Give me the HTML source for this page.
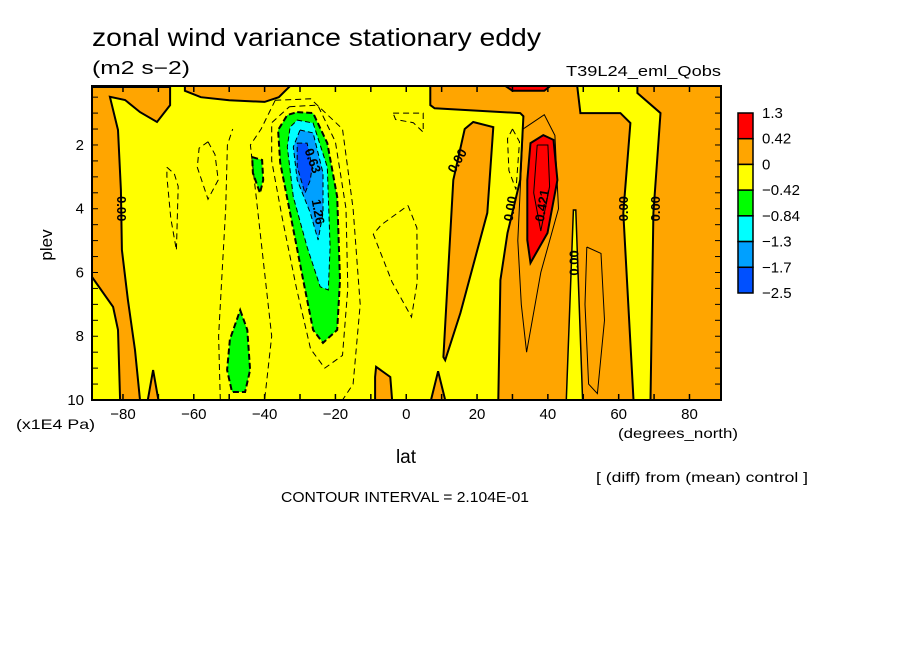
<!DOCTYPE html>
<html><head><meta charset="utf-8"><style>
html,body{margin:0;padding:0;background:#fff;}
svg{display:block;font-family:"Liberation Sans",sans-serif;}
</style></head><body>
<svg id="chart" width="904" height="654" viewBox="0 0 904 654">
<rect width="904" height="654" fill="#fff"/>
<text x="92" y="46" font-size="25" textLength="449" lengthAdjust="spacingAndGlyphs">zonal wind variance stationary eddy</text>
<text x="92" y="74" font-size="18" textLength="98" lengthAdjust="spacingAndGlyphs">(m2 s−2)</text>
<text x="566" y="76" font-size="15" textLength="155" lengthAdjust="spacingAndGlyphs">T39L24_eml_Qobs</text>
<g id="plot"></g>
<g id="axes"></g>
<g id="cbar"></g>
<text x="52" y="245" font-size="17" transform="rotate(-90 52 245)" text-anchor="middle">plev</text>
<text x="406" y="463" font-size="19" text-anchor="middle">lat</text>
<text x="16" y="429" font-size="14" textLength="79" lengthAdjust="spacingAndGlyphs">(x1E4 Pa)</text>
<text x="618" y="438" font-size="14" textLength="120" lengthAdjust="spacingAndGlyphs">(degrees_north)</text>
<text x="596" y="482" font-size="14" textLength="212" lengthAdjust="spacingAndGlyphs">[ (diff) from (mean) control ]</text>
<text x="281" y="502" font-size="15" textLength="248" lengthAdjust="spacingAndGlyphs">CONTOUR INTERVAL = 2.104E-01</text>
</svg>
<script>
const latMin=-88.75, latMax=88.9, pTop=0.15, pBot=10;
const xTicks=[-80,-60,-40,-20,0,20,40,60,80];
const yTicks=[2,4,6,8,10];
const cbarLabels=["1.3","0.42","0","−0.42","−0.84","−1.3","−1.7","−2.5"];
const cbarColors=["#ff0000","#ffa500","#ffff00","#00ff00","#00ffff","#00a0ff","#0050ff"];
const orangeRegions=[
 [[-88.75,0.18],[-66.7,0.18],[-66.7,0.75],[-70.4,1.28],[-75.2,0.97],[-79.4,0.59],[-83.7,0.49],[-81.4,1.53],[-80.6,3.41],[-80.3,5.29],[-78.6,6.86],[-76.6,8.43],[-75.2,10],[-80.8,10],[-81.4,7.8],[-82.8,7.08],[-88.75,6.14]],
 [[-62.5,0.15],[-32.8,0.15],[-36,0.5],[-40,0.65],[-50,0.6],[-58,0.5],[-62.5,0.3]],
 [[6.8,0.15],[48.3,0.15],[49.2,1.0],[60.5,1.0],[63.3,1.31],[61.3,4.13],[64.2,10],[26.0,10],[26.6,6.24],[28.6,4.76],[32.2,3.1],[33.1,1.1],[32.2,1.0],[8,0.85],[6.8,0.75]],
 [[65.3,0.15],[88.9,0.15],[88.9,10],[69,10],[69.8,4.13],[71.8,1.0],[65.3,0.37]],
 [[18.9,1.28],[24.6,1.44],[22.9,4.13],[15.3,7.27],[11.0,8.75],[10.5,8.65],[13.3,3.1],[16.5,1.5]],
 [[9,9.1],[11,10],[7,10]],
 [[-71.5,9.06],[-70,10],[-73,10]],
 [[-8.5,8.96],[-4.5,9.28],[-4,10],[-8.8,10],[-8.8,9.28]]
];
const yellowRegions=[[[47.2,4.04],[47.9,4.04],[49.8,10],[45.2,10]]];
const greenRegions=[
 [[-30.8,0.97],[-26.3,1.0],[-22.3,1.94],[-19.5,3.63],[-18.7,6.24],[-19.5,7.8],[-23.5,8.21],[-26.3,7.8],[-29.1,6.24],[-32.8,4.13],[-35.6,2.56],[-36.2,1.53],[-33.6,1.06]],
 [[-43.5,2.38],[-40.7,2.47],[-40.4,3.1],[-41.3,3.51],[-43.3,2.88]],
 [[-46.9,7.18],[-44.9,7.8],[-44.1,9.06],[-45.5,9.75],[-49.2,9.75],[-50.6,9.06],[-49.8,8.1]]
];
const cyanRegions=[[[-30.8,1.22],[-26.3,1.31],[-22.3,2.69],[-21.5,5.2],[-22.0,6.55],[-24.3,6.45],[-28,5.2],[-31.9,3.63],[-33.6,2.06],[-32.8,1.44]]];
const midBlueRegions=[[[-30,1.53],[-26.3,1.62],[-23.5,2.88],[-23.5,4.13],[-24.9,4.98],[-27.1,4.13],[-30.8,3.1],[-31.9,2.06]]];
const darkBlueRegions=[[[-30.8,1.94],[-28,1.94],[-26.6,2.69],[-27.1,3.1],[-28.6,3.51],[-30.8,2.69]]];
const redRegions=[
 [[35.1,1.94],[38.7,1.69],[41.6,1.84],[42.7,3.1],[39.9,4.76],[35.1,5.7],[34.2,4.98],[34.2,3.1]],
 [[28,0.15],[40.7,0.15],[39,0.3],[30,0.3]]
];
const dashedLines=[
 [[-33,0.8],[-25,0.75],[-20,1.9],[-17,4],[-16.5,6.5],[-18,8.6],[-23,9.0],[-27,8.4],[-31,6.5],[-35,4.3],[-38,2.5],[-38,1.3],[-33,0.8]],
 [[-37,0.6],[-27,0.55],[-18,1.5],[-15,4],[-13,7],[-15,9.5],[-18,10]],
 [[-37,0.6],[-41,1.5],[-44,2],[-42,4],[-40,6],[-38,8],[-40,10]],
 [[0.5,3.9],[3,4.6],[3.1,6.3],[1.5,7.4],[-4,6.3],[-9.3,4.8],[-7,4.5],[0.5,3.9]],
 [[-3.7,1.0],[4.8,1.0],[4.8,1.6],[2,1.3],[-3,1.2],[-3.7,1.0]],
 [[-67.6,2.7],[-65.5,2.9],[-64.4,3.3],[-64.9,5.3],[-66.5,4.3],[-67.6,3],[-67.6,2.7]],
 [[-56,1.9],[-54,2.3],[-53.1,3.1],[-56,3.7],[-59,2.7],[-58.5,2.1],[-56,1.9]],
 [[-52.5,10],[-53,8],[-52,6],[-51,4],[-50.5,2],[-49,1.5]],
 [[30,1.5],[32,1.9],[31,3.4],[29,2.8],[28.6,1.8],[30,1.5]]
];
const thinLines=[
 [[33,1.5],[39,1.05],[42,1.7],[43,4],[38,6],[34,8.5],[32.5,7],[31.5,5],[33,1.5]],
 [[37,2.0],[40,2.0],[40.5,3.3],[38,4.7],[36,3.5],[37,2.0]],
 [[51,5.2],[55,5.4],[56,7.5],[54,9.8],[51.5,9.5],[50.5,7],[51,5.2]]
];
const contourLabels=[[-80.5,4.0,"0.00",90],[14.5,2.5,"0.00",-60],[29.5,4.0,"0.00",-80],[47.5,5.7,"0.00",-90],[61.5,4.0,"0.00",-90],[70.5,4.0,"0.00",-90],[38.5,3.9,"0.421",-80],[-26.5,2.5,"0.63",70],[-25,4.1,"1.26",80]];

const X0=92,X1=721,Y0=86,Y1=400;
function x(l){return X0+(l-latMin)/(latMax-latMin)*(X1-X0);}
function y(p){return Y0+(p-pTop)/(pBot-pTop)*(Y1-Y0);}
const NS="http://www.w3.org/2000/svg";
function mk(tag,parent){const e=document.createElementNS(NS,tag);parent.appendChild(e);return e;}
function pts(a){return a.map(d=>x(d[0]).toFixed(1)+","+y(d[1]).toFixed(1)).join(" ");}
const plot=document.getElementById("plot");
const clip=mk("clipPath",plot);clip.setAttribute("id","pc");
const cr=mk("rect",clip);cr.setAttribute("x",X0);cr.setAttribute("y",Y0);cr.setAttribute("width",X1-X0);cr.setAttribute("height",Y1-Y0);
const g=mk("g",plot);g.setAttribute("clip-path","url(#pc)");
const bg=mk("rect",g);bg.setAttribute("x",X0);bg.setAttribute("y",Y0);bg.setAttribute("width",X1-X0);bg.setAttribute("height",Y1-Y0);bg.setAttribute("fill","#ffff00");


function drawSet(arr,fill,name,dash,sw){arr.forEach(r=>{const p=mk("polygon",g);p.setAttribute("points",pts(r));p.setAttribute("fill",fill);p.setAttribute("stroke","#000");p.setAttribute("stroke-width",sw);if(dash)p.setAttribute("stroke-dasharray",dash);

});}
drawSet(orangeRegions,"#ffa500","orange-region",null,2);
drawSet(yellowRegions,"#ffff00","yellow-region",null,1.5);
drawSet(greenRegions,"#00ff00","green-region","6,3",2);
drawSet(cyanRegions,"#00ffff","cyan-region","5,3",1);
drawSet(midBlueRegions,"#00a0ff","mid-blue-region","5,3",1);
drawSet(darkBlueRegions,"#0050ff","dark-blue-region","5,3",1);
drawSet(redRegions,"#ff0000","red-region",null,2);
dashedLines.forEach(l=>{const p=mk("polyline",g);p.setAttribute("points",pts(l));p.setAttribute("fill","none");p.setAttribute("stroke","#000");p.setAttribute("stroke-width","1");p.setAttribute("stroke-dasharray","6,4");

});
thinLines.forEach(l=>{const p=mk("polyline",g);p.setAttribute("points",pts(l));p.setAttribute("fill","none");p.setAttribute("stroke","#000");p.setAttribute("stroke-width","1");

});
contourLabels.forEach(c=>{const t=mk("text",g);const cx=x(c[0]),cy=y(c[1]);t.setAttribute("x",cx);t.setAttribute("y",cy+4);t.setAttribute("font-size","13");t.setAttribute("font-weight","bold");t.setAttribute("text-anchor","middle");t.setAttribute("transform","rotate("+c[3]+" "+cx+" "+cy+")");t.textContent=c[2];

});
const ax=document.getElementById("axes");
const fr=mk("rect",ax);fr.setAttribute("x",X0);fr.setAttribute("y",Y0);fr.setAttribute("width",X1-X0);fr.setAttribute("height",Y1-Y0);fr.setAttribute("fill","none");fr.setAttribute("stroke","#000");fr.setAttribute("stroke-width","2");


for(let l=-80;l<=80;l+=10){[[Y1,-6],[Y0,6]].forEach(s=>{const t=mk("line",ax);t.setAttribute("x1",x(l));t.setAttribute("x2",x(l));t.setAttribute("y1",s[0]);t.setAttribute("y2",s[0]+s[1]);t.setAttribute("stroke","#000");t.setAttribute("stroke-width","1.5");});}
for(let p=0.5;p<=10;p+=0.5){[[X0,6],[X1,-6]].forEach(s=>{const t=mk("line",ax);t.setAttribute("y1",y(p));t.setAttribute("y2",y(p));t.setAttribute("x1",s[0]);t.setAttribute("x2",s[0]+s[1]);t.setAttribute("stroke","#000");t.setAttribute("stroke-width","1");});}
xTicks.forEach(v=>{const t=mk("text",ax);t.setAttribute("x",x(v));t.setAttribute("y",419);t.setAttribute("font-size","15");t.setAttribute("text-anchor","middle");t.textContent=(v<0?"−":"")+Math.abs(v);

});
yTicks.forEach(v=>{const t=mk("text",ax);t.setAttribute("x",84);t.setAttribute("y",y(v)+5);t.setAttribute("font-size","15");t.setAttribute("text-anchor","end");t.textContent=v;

});
const cb=document.getElementById("cbar");
const cbTop=113,cbH=180/cbarColors.length;
cbarColors.forEach((c,i)=>{const r=mk("rect",cb);r.setAttribute("x",738);r.setAttribute("y",cbTop+i*cbH);r.setAttribute("width",15);r.setAttribute("height",cbH);r.setAttribute("fill",c);r.setAttribute("stroke","#000");r.setAttribute("stroke-width","1.5");

});
cbarLabels.forEach((s,i)=>{const t=mk("text",cb);t.setAttribute("x",762);t.setAttribute("y",cbTop+i*cbH+5);t.setAttribute("font-size","15");t.textContent=s;

});
</script>
</body></html>
